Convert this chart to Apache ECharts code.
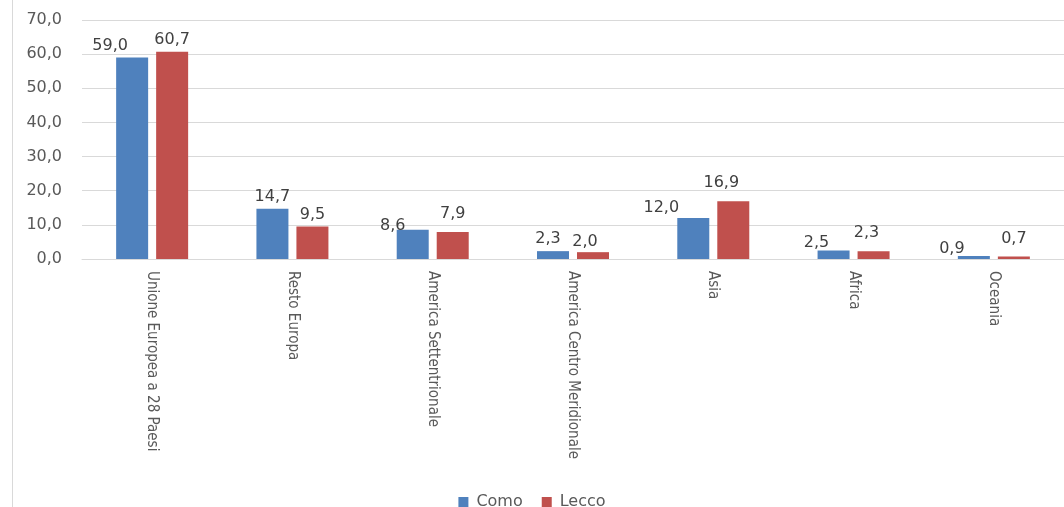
<!DOCTYPE html>
<html>
<head>
<meta charset="utf-8">
<script src="https://cdn.jsdelivr.net/npm/echarts@6/dist/echarts.min.js"></script>
<style>
  html, body { margin: 0; padding: 0; background: #fff; }
  #main { width: 1064px; height: 507px; }
</style>
</head>
<body>
<div id="main"></div>
<script>
var categories = ['Unione Europea a 28 Paesi', 'Resto Europa', 'America Settentrionale',
    'America Centro Meridionale', 'Asia', 'Africa', 'Oceania'];
var comoValues = [59.0, 14.7, 8.6, 2.3, 12.0, 2.5, 0.9];
var leccoValues = [60.7, 9.5, 7.9, 2.0, 16.9, 2.3, 0.7];
var yTicks = [0, 10, 20, 30, 40, 50, 60, 70];

// label nudges as in the original (labels moved by hand to avoid overlaps)
var comoLabelNudge = [[-22, 0], [0, 0], [-20, 8], [-5, 0], [-32, 2], [-17, 4], [-22, 5]];
var leccoLabelNudge = [[0, 0], [0, 0], [0, -6], [-8, 2], [-12, -6], [-7, -6], [0, -6]];

function fmt(v) {
    return v.toFixed(1).replace('.', ',');
}

function withLabels(values, nudges) {
    var out = [];
    for (var i = 0; i < values.length; i++) {
        out.push({ value: values[i], label: { offset: nudges[i] } });
    }
    return out;
}

var chart = echarts.init(document.getElementById('main'));

var labelStyle = {
    show: true,
    position: 'top',
    color: '#404040',
    fontSize: 16,
    fontFamily: 'DejaVu Sans',
    distance: 4,
    formatter: function (p) { return fmt(p.value); }
};

var option = {
    animation: false,
    color: ['#4F81BD', '#C0504D'],
    graphic: [
        {
            type: 'line',
            shape: { x1: 12.5, y1: 0, x2: 12.5, y2: 507 },
            style: { stroke: '#d9d9d9', lineWidth: 1 }
        }
    ],
    grid: {
        left: 82,
        right: -10,
        top: 20,
        bottom: 248
    },
    legend: {
        top: 489,
        left: 'center',
        itemWidth: 10,
        itemHeight: 10,
        itemGap: 19,
        icon: 'rect',
        textStyle: { color: '#595959', fontSize: 16, fontFamily: 'DejaVu Sans', padding: [0, 0, 0, 3] },
        data: ['Como', 'Lecco']
    },
    xAxis: {
        type: 'category',
        data: categories,
        axisTick: { show: false },
        axisLine: { lineStyle: { color: '#d9d9d9' } },
        axisLabel: {
            rotate: -90,
            interval: 0,
            color: '#595959',
            fontSize: 15,
            margin: 12,
            fontFamily: 'DejaVu Sans Condensed'
        }
    },
    yAxis: {
        type: 'value',
        min: yTicks[0],
        max: yTicks[yTicks.length - 1],
        interval: 10,
        axisLine: { show: false },
        axisTick: { show: false },
        splitLine: { lineStyle: { color: '#d9d9d9' } },
        axisLabel: {
            color: '#595959',
            fontSize: 16,
            margin: 20,
            fontFamily: 'DejaVu Sans',
            formatter: function (v) { return fmt(v); }
        }
    },
    series: [
        {
            name: 'Como',
            type: 'bar',
            data: withLabels(comoValues, comoLabelNudge),
            barWidth: 32,
            barGap: '25%',
            label: labelStyle
        },
        {
            name: 'Lecco',
            type: 'bar',
            data: withLabels(leccoValues, leccoLabelNudge),
            barWidth: 32,
            barGap: '25%',
            label: labelStyle
        }
    ]
};

chart.setOption(option);
</script>
</body>
</html>
